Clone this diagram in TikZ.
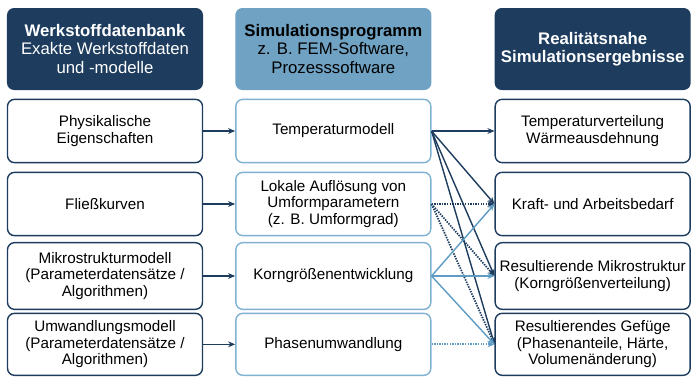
\documentclass[tikz,border=0pt]{standalone}
\usepackage{fontspec}
\setmainfont{Liberation Sans}
\usetikzlibrary{arrows.meta}

\definecolor{blunotte}{HTML}{1D3C5E}
\definecolor{azzurro}{HTML}{6FA2C3}
\definecolor{bordochiaro}{HTML}{7FB1D2}
\definecolor{celeste}{HTML}{5E9CC4}

\tikzset{
    testo/.style={align=center, font=\fontsize{13}{14.2}\selectfont},
    testa/.style={align=center, font=\fontsize{14.3}{15.8}\selectfont, rounded corners=6pt,
        minimum width=5.88cm, minimum height=2.46cm},
    casella/.style={testo, draw=blunotte, line width=1.2pt, rounded corners=6pt, fill=white,
        minimum width=5.85cm, minimum height=1.9cm},
    casellachiara/.style={casella, draw=bordochiaro},
    freccia/.style={-{Stealth[length=6pt,width=5pt]}, line width=1.2pt, blunotte},
    frecciachiara/.style={freccia, celeste},
    puntini/.style={densely dotted, line width=1.5pt}
}

\begin{document}
\begin{tikzpicture}

        \useasboundingbox (0,0) rectangle (20.76,-11.34);

        % 1. Intestazioni delle tre colonne
        \node[testa, fill=blunotte, text=white] (banca) at (3.15,-1.47)
            {\textbf{Werkstoffdatenbank}\\Exakte Werkstoffdaten\\und -modelle};
        \node[testa, fill=azzurro, text=black] (programma) at (10.0,-1.47)
            {\textbf{Simulationsprogramm}\\z. B. FEM-Software,\\Prozesssoftware};
        \node[testa, fill=blunotte, text=white] (risultati) at (17.78,-1.47)
            {\textbf{Realitätsnahe}\\\textbf{Simulationsergebnisse}};

        % 2. Colonna sinistra: dati dei materiali
        \node[casella] (fisica) at (3.15,-3.93) {Physikalische\\Eigenschaften};
        \node[casella] (curve) at (3.15,-6.12) {Fließkurven};
        \node[casella, minimum height=2.0cm] (micro) at (3.15,-8.28)
            {Mikrostrukturmodell\\(Parameterdatensätze /\\Algorithmen)};
        \node[casella, minimum height=1.86cm] (trasf) at (3.15,-10.33)
            {Umwandlungsmodell\\(Parameterdatensätze /\\Algorithmen)};

        % 3. Colonna centrale: modelli di simulazione
        \node[casellachiara] (temp) at (10.0,-3.93) {Temperaturmodell};
        \node[casellachiara] (locale) at (10.0,-6.12)
            {Lokale Auflösung von\\Umformparametern\\(z. B. Umformgrad)};
        \node[casellachiara, minimum height=2.0cm] (grano) at (10.0,-8.28) {Korngrößenentwicklung};
        \node[casellachiara, minimum height=1.86cm] (fase) at (10.0,-10.33) {Phasenumwandlung};

        % 4. Colonna destra: risultati
        \node[casella] (distrib) at (17.78,-3.93) {Temperaturverteilung\\Wärmeausdehnung};
        \node[casella] (forza) at (17.78,-6.12) {Kraft- und Arbeitsbedarf};
        \node[casella, minimum height=2.0cm] (struttura) at (17.78,-8.28)
            {Resultierende Mikrostruktur\\(Korngrößenverteilung)};
        \node[casella, minimum height=1.86cm] (gefuege) at (17.78,-10.33)
            {Resultierendes Gefüge\\(Phasenanteile, Härte,\\Volumenänderung)};

        % 5. Frecce da sinistra verso il centro
        \draw[freccia] (fisica) -- (temp);
        \draw[freccia] (curve) -- (locale);
        \draw[freccia] (micro) -- (grano);
        \draw[freccia] (trasf) -- (fase);

        % 6. Frecce dal centro verso destra
        \draw[freccia] (temp.east) -- (distrib.west);
        \draw[freccia] (temp.east) -- (forza.west);
        \draw[freccia] (temp.east) -- (struttura.west);
        \draw[freccia] (temp.east) -- (gefuege.west);

        \draw[freccia, puntini] (locale.east) -- (forza.west);
        \draw[freccia, puntini] (locale.east) -- (struttura.west);
        \draw[freccia, puntini] (locale.east) -- (gefuege.west);

        \draw[frecciachiara] (grano.east) -- (forza.west);
        \draw[frecciachiara] (grano.east) -- (struttura.west);
        \draw[frecciachiara] (grano.east) -- (gefuege.west);

        \draw[frecciachiara, puntini] (fase.east) -- (gefuege.west);

    \end{tikzpicture}
\end{document}
